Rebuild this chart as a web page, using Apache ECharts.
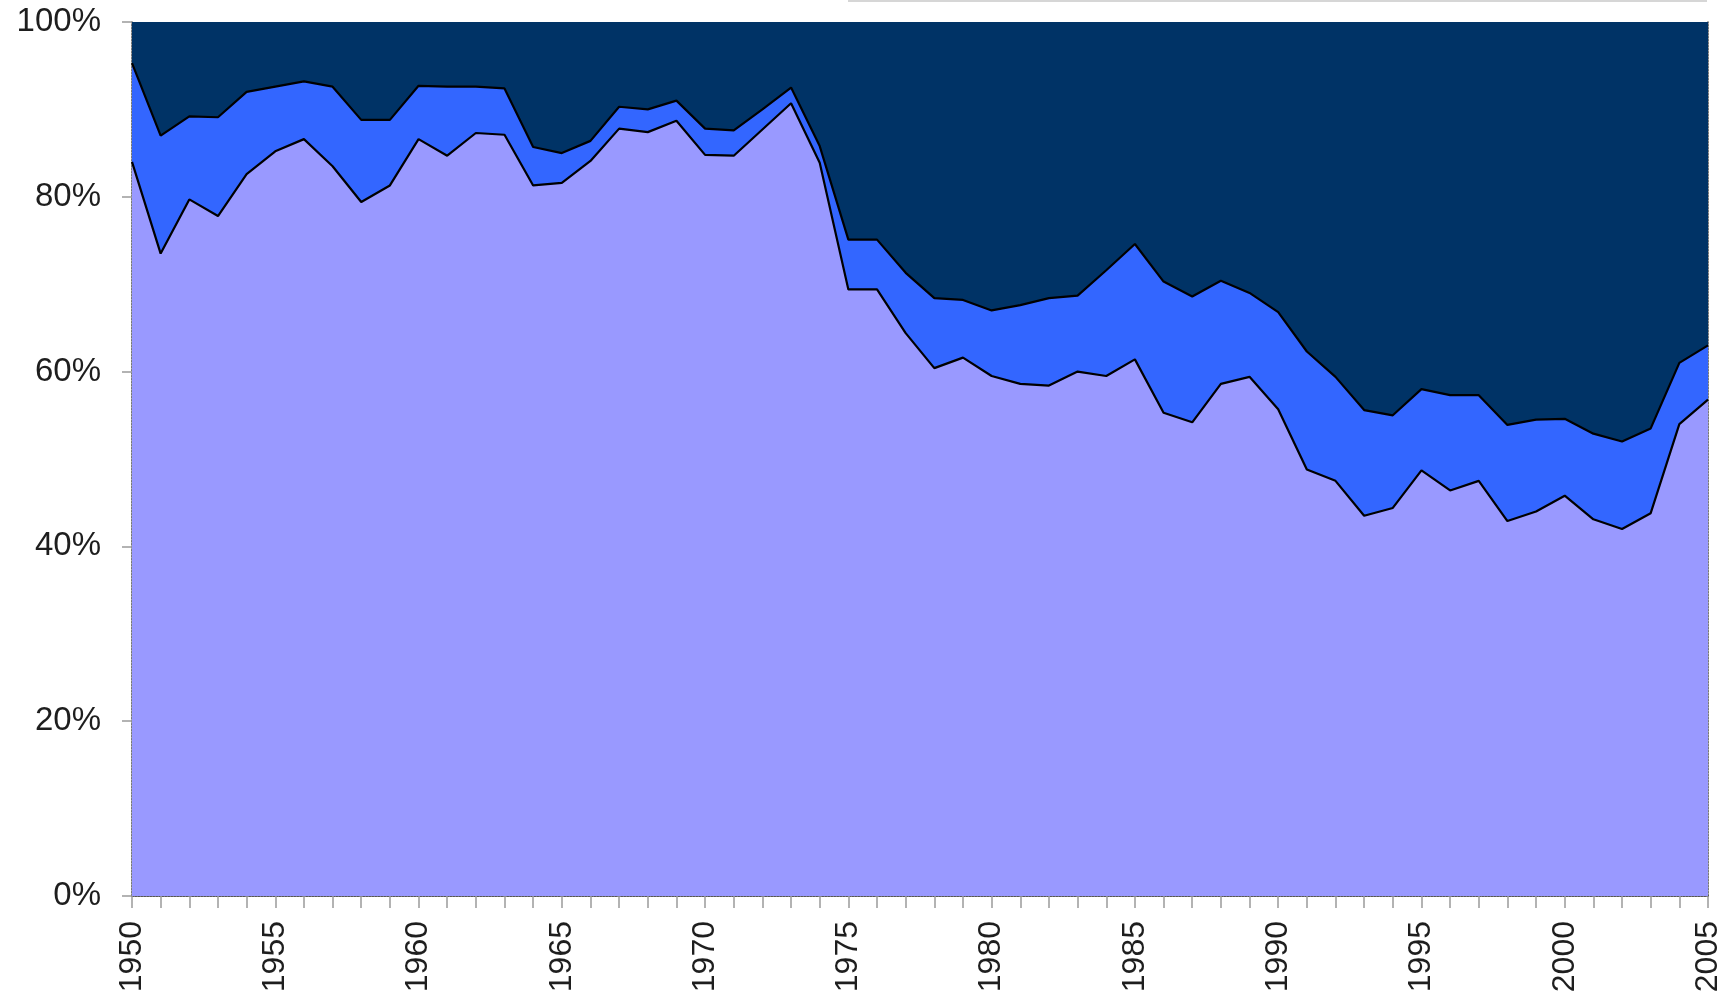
<!DOCTYPE html>
<html>
<head>
<meta charset="utf-8">
<script src="https://cdn.jsdelivr.net/npm/echarts@6/dist/echarts.min.js"></script>
<style>
html,body{margin:0;padding:0;background:#fff;}
#chart{width:1731px;height:1008px;}
</style>
</head>
<body>
<div id="chart"></div>
<script>
const years = [];
for (let y = 1950; y <= 2005; y++) years.push(String(y));

const bottomShare = [84.0,73.5,79.7,77.8,82.6,85.2,86.6,83.5,79.4,81.3,
  86.6,84.7,87.3,87.1,81.3,81.6,84.1,87.8,87.4,88.7,
  84.8,84.7,87.7,90.7,83.9,69.4,69.4,64.4,60.4,61.6,
  59.5,58.6,58.4,60.0,59.5,61.4,55.3,54.2,58.6,59.4,
  55.7,48.8,47.5,43.5,44.4,48.7,46.4,47.5,42.9,44.0,
  45.8,43.1,42.0,43.8,54.0,56.8];

const middleShare = [11.3,13.5,9.5,11.3,9.4,7.4,6.6,9.1,9.4,7.5,
  6.1,7.9,5.3,5.3,4.4,3.4,2.3,2.5,2.6,2.3,
  3.0,2.9,2.3,1.8,1.9,5.7,5.7,6.9,8.0,6.6,
  7.5,9.0,10.0,8.7,12.1,13.2,15.0,14.4,11.8,9.6,
  11.1,13.5,11.9,12.1,10.6,9.3,10.9,9.8,11.0,10.5,
  8.8,9.8,10.0,9.7,7.0,6.2];

const topShare = [4.7,13.0,10.8,10.9,8.0,7.4,6.8,7.4,11.2,11.2,
  7.3,7.4,7.4,7.6,14.3,15.0,13.6,9.7,10.0,9.0,
  12.2,12.4,10.0,7.5,14.2,24.9,24.9,28.7,31.6,31.8,
  33.0,32.4,31.6,31.3,28.4,25.4,29.7,31.4,29.6,31.0,
  33.2,37.7,40.6,44.4,45.0,42.0,42.7,42.7,46.1,45.5,
  45.4,47.1,48.0,46.5,39.0,37.0];

const yTicks = [0, 20, 40, 60, 80, 100];

const chart = echarts.init(document.getElementById('chart'), null, {renderer: 'canvas'});

const labelFont = 'Liberation Sans, Arial, sans-serif';
const borderLine = {show: true, lineStyle: {color: '#4a4a4a', width: 1.5, type: 'dotted'}};

chart.setOption({
  animation: false,
  backgroundColor: '#ffffff',
  grid: {left: 132, right: 23, top: 22, bottom: 112, containLabel: false},
  xAxis: [{
    type: 'category',
    data: years,
    boundaryGap: false,
    position: 'bottom',
    axisLine: borderLine,
    axisTick: {show: true, interval: 0, length: 12, lineStyle: {color: '#9a9a9a', width: 1.5}},
    axisLabel: {
      interval: 4, rotate: 90, margin: 25,
      fontFamily: labelFont, fontSize: 32, color: '#1e1e1e'
    },
    splitLine: {show: false}
  }, {
    type: 'category',
    data: years,
    boundaryGap: false,
    position: 'top',
    axisLine: borderLine,
    axisTick: {show: false},
    axisLabel: {show: false},
    splitLine: {show: false}
  }],
  yAxis: [{
    type: 'value',
    min: 0, max: 100, interval: 20,
    position: 'left',
    axisLine: borderLine,
    axisTick: {show: true, length: 10, lineStyle: {color: '#9a9a9a', width: 1.5}},
    axisLabel: {
      margin: 31, fontFamily: labelFont, fontSize: 33, color: '#1e1e1e',
      formatter: v => yTicks.includes(v) ? v + '%' : ''
    },
    splitLine: {show: false}
  }, {
    type: 'value',
    min: 0, max: 100, interval: 20,
    position: 'right',
    axisLine: borderLine,
    axisTick: {show: false},
    axisLabel: {show: false},
    splitLine: {show: false}
  }],
  series: [{
    name: 'bottom',
    type: 'line',
    stack: 'total',
    data: bottomShare,
    symbol: 'none',
    lineStyle: {color: '#000000', width: 2.2},
    areaStyle: {color: '#9999FF', opacity: 1},
    z: 3
  }, {
    name: 'middle',
    type: 'line',
    stack: 'total',
    data: middleShare,
    symbol: 'none',
    lineStyle: {color: '#000000', width: 2.2},
    areaStyle: {color: '#3366FF', opacity: 1},
    z: 2
  }, {
    name: 'top',
    type: 'line',
    stack: 'total',
    data: topShare,
    symbol: 'none',
    lineStyle: {width: 0, opacity: 0},
    areaStyle: {color: '#003366', opacity: 1},
    z: 1
  }],
  graphic: [{
    type: 'line',
    shape: {x1: 848, y1: 1, x2: 1707, y2: 1},
    style: {stroke: '#d6d6d6', lineWidth: 2}
  }]
});
</script>
</body>
</html>
